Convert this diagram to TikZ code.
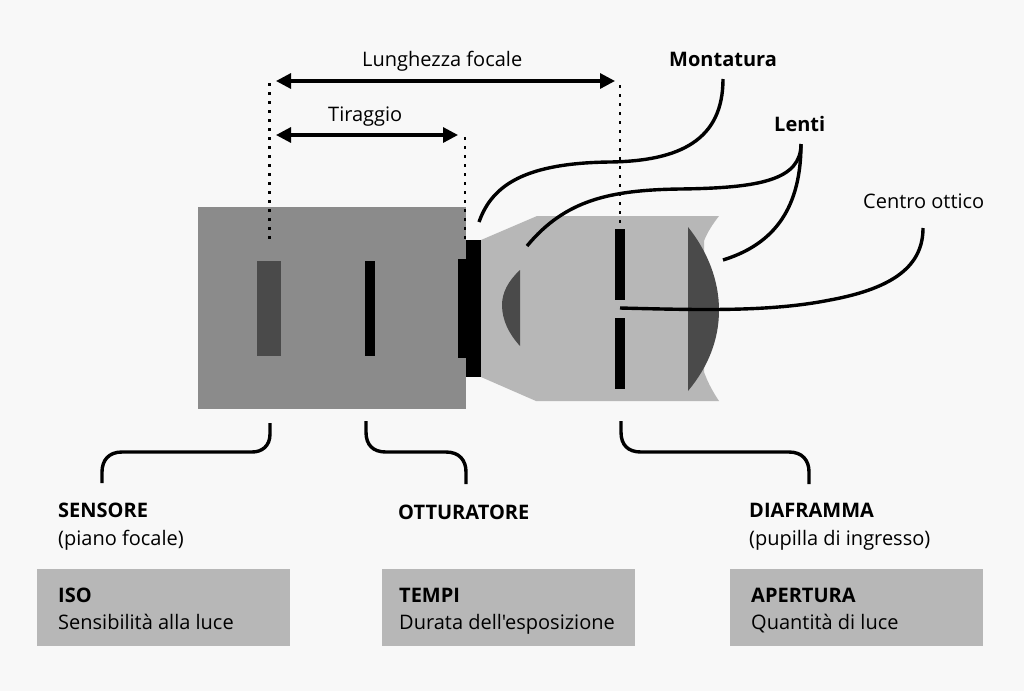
\documentclass[tikz,border=0pt]{standalone}
\usepackage{fontspec}
\newfontfamily\osf{Open Sans}
\usetikzlibrary{arrows.meta}
\definecolor{bg}{HTML}{F8F8F8}
\definecolor{lightg}{HTML}{B7B7B7}
\definecolor{darkg}{HTML}{4A4A4A}
\definecolor{bodyg}{HTML}{8B8B8B}
\tikzset{
  x=1pt,y=-1pt,
  lbl/.style={inner sep=0pt,anchor=base west,font=\osf\fontsize{20}{24}\selectfont},
  blbl/.style={lbl,font=\osf\fontsize{20}{24}\selectfont\bfseries},
  wire/.style={line width=3.4pt,black},
  dots/.style={line width=2.8pt,black,dash pattern=on 2.8pt off 6.2pt},
  dim/.style={line width=3.2pt,black,{Triangle[length=15pt,width=15pt]}-{Triangle[length=15pt,width=15pt]}},
  infobox/.style={fill=lightg,draw=none,inner sep=0pt,anchor=north west,minimum height=77pt,minimum width=253pt},
}
\begin{document}
\begin{tikzpicture}
\useasboundingbox (0,0) rectangle (1024,691);
\fill[bg] (0,0) rectangle (1024,691);
% camera body
\node[anchor=north west,inner sep=0pt,minimum width=268pt,minimum height=202pt,fill=bodyg] (body) at (198,207) {};
% lens barrel
\fill[lightg] (481,240) -- (537,216) -- (719,216) .. controls (712,225) and (707,233) .. (704,241) -- (704,372) .. controls (708,383) and (713,392) .. (719,401) -- (536,401) -- (481,377) -- cycle;
% lenses
\fill[darkg] (688,227) .. controls (708,252) and (719,281) .. (719,310) .. controls (719,340) and (708,367) .. (688,391) -- cycle;
\fill[darkg] (520,270) .. controls (508,281) and (502,293) .. (502,305) .. controls (502,320) and (509,334) .. (520,346) -- cycle;
% mount
\node[fill=black,anchor=north west,inner sep=0pt,minimum width=15pt,minimum height=137pt] (mountA) at (466,240) {};
\node[fill=black,anchor=north west,inner sep=0pt,minimum width=8pt,minimum height=99pt] (mountB) at (458,259) {};
% diaphragm, sensor, shutter
\node[fill=black,anchor=north west,inner sep=0pt,minimum width=10pt,minimum height=71pt] (diaA) at (615,229) {};
\node[fill=black,anchor=north west,inner sep=0pt,minimum width=10pt,minimum height=71pt] (diaB) at (615,318) {};
\node[fill=darkg,anchor=north west,inner sep=0pt,minimum width=24pt,minimum height=95pt] (sensor) at (257,261) {};
\node[fill=black,anchor=north west,inner sep=0pt,minimum width=10pt,minimum height=95pt] (shutter) at (365,261) {};
% dimension lines
\coordinate (dA) at (269.5,83); \coordinate (dB) at (269.5,240);
\coordinate (dC) at (465,137); \coordinate (dD) at (465,240);
\coordinate (dE) at (620,85); \coordinate (dF) at (620,226);
\draw[dots] (dA) -- (dB);
\draw[dots] (dC) -- (dD);
\draw[dots] (dE) -- (dF);
\coordinate (aL) at (276,81); \coordinate (aR) at (615,81);
\coordinate (bL) at (276,135); \coordinate (bR) at (458,135);
\draw[dim] (aL) -- (aR);
\draw[dim] (bL) -- (bR);
% labels
\node[lbl] (lf) at (362,66) {Lunghezza focale};
\node[lbl] (tir) at (328,121) {Tiraggio};
\node[blbl] (mont) at (669,66) {Montatura};
\node[blbl] (lenti) at (774,131) {Lenti};
\node[lbl] (centro) at (863,208) {Centro ottico};
% leader curves
\coordinate (mA) at (479,222); \coordinate (mB) at (723,79);
\coordinate (lA) at (527,246); \coordinate (lB) at (801,144); \coordinate (lC) at (723,260);
\coordinate (cA) at (620,308); \coordinate (cB) at (923,228);
\draw[wire] (mA) .. controls (492,185) and (525,163) .. (610,162) .. controls (680,161) and (723,140) .. (mB);
\draw[wire] (lA) .. controls (565,200) and (610,190) .. (680,189) .. controls (760,188) and (801,180) .. (lB);
\draw[wire] (lC) .. controls (768,246) and (801,215) .. (lB);
\draw[wire] (cA) .. controls (700,310) and (770,312) .. (830,300) .. controls (895,288) and (923,265) .. (cB);
% brackets
\coordinate (s1) at (270,423); \coordinate (s2) at (102,483);
\coordinate (o1) at (366,421); \coordinate (o2) at (466,484);
\coordinate (f1) at (621,421); \coordinate (f2) at (809,484);
\draw[wire] (s1) -- (270,434) .. controls (270,446) and (262,452) .. (252,452) -- (122,452) .. controls (109,452) and (102,460) .. (102,472) -- (s2);
\draw[wire] (o1) -- (366,432) .. controls (366,445) and (373,452) .. (386,452) -- (446,452) .. controls (459,452) and (466,460) .. (466,472) -- (o2);
\draw[wire] (f1) -- (621,432) .. controls (621,445) and (628,452) .. (641,452) -- (789,452) .. controls (802,452) and (809,460) .. (809,472) -- (f2);
% captions
\node[blbl] (sen) at (58,517) {SENSORE};
\node[lbl] (sen2) at (58,545) {(piano focale)};
\node[blbl] (ott) at (398,519) {OTTURATORE};
\node[blbl] (dia) at (749,517) {DIAFRAMMA};
\node[lbl] (dia2) at (749,545) {(pupilla di ingresso)};
% info boxes
\node[infobox] (b1) at (37,569) {};
\node[infobox] (b2) at (382,569) {};
\node[infobox] (b3) at (730,569) {};
\node[blbl] (iso) at (58,602) {ISO};
\node[lbl] (iso2) at (58,629) {Sensibilità alla luce};
\node[blbl] (tem) at (399,602) {TEMPI};
\node[lbl] (tem2) at (399,629) {Durata dell'esposizione};
\node[blbl] (ape) at (751,602) {APERTURA};
\node[lbl] (ape2) at (751,629) {Quantità di luce};
\end{tikzpicture}
\end{document}
